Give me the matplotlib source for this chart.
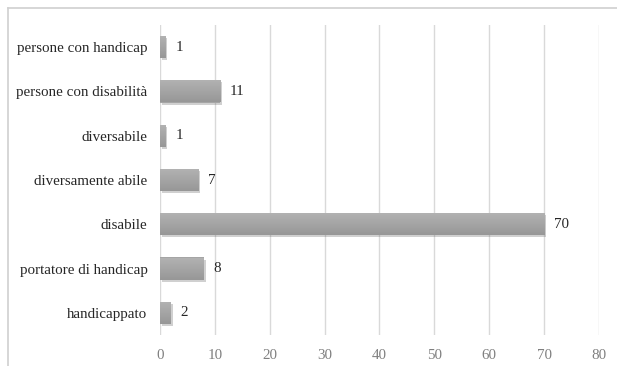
import numpy as np
import matplotlib
matplotlib.use("Agg")
import matplotlib.pyplot as plt
from matplotlib import patheffects as pe
from matplotlib.lines import Line2D
from matplotlib.colors import LinearSegmentedColormap

categories = ["handicappato", "portatore di handicap", "disabile",
              "diversamente abile", "diversabile", "persone con disabilità",
              "persone con handicap"]
values = [2, 8, 70, 7, 1, 11, 1]
xticks = [0, 10, 20, 30, 40, 50, 60, 70, 80]

plt.rcParams['font.family'] = ['Liberation Serif', 'DejaVu Serif']

fig = plt.figure(figsize=(6.17, 3.66), dpi=100)
fig.patch.set_facecolor('white')
ax = fig.add_axes([160/617, 31/366, 439/617, 310/366])

# outer frame (top & left visible)
fig.add_artist(Line2D([8/617, 1.0], [1-8/366, 1-8/366], transform=fig.transFigure,
                      color='#d0d0d0', lw=1.2))
fig.add_artist(Line2D([8/617, 8/617], [0, 1-8/366], transform=fig.transFigure,
                      color='#d0d0d0', lw=1.2))

y = np.arange(len(categories))
h = 0.5
bars = ax.barh(y, values, height=h, color='#a5a5a5', zorder=3,
               path_effects=[pe.SimplePatchShadow(offset=(1.2, -1.5), shadow_rgbFace='#666666', alpha=0.3),
                             pe.Normal()])

cmap = LinearSegmentedColormap.from_list('g', ['#979797', '#b3b3b3'])
grad = np.linspace(0, 1, 64).reshape(-1, 1)
for b, yi, v in zip(bars, y, values):
    im = ax.imshow(grad, extent=(0, v, yi - h/2, yi + h/2), aspect='auto',
                   cmap=cmap, origin='lower', zorder=4)
    im.set_clip_path(b)
    ax.annotate(str(v), xy=(v, yi), xytext=(7, 0), textcoords='offset points',
                va='center', ha='left', fontsize=10.8, color='#262626', zorder=5)

ax.set_xlim(0, 80)
ax.set_ylim(-0.5, len(categories) - 0.5)
ax.set_xticks(xticks)
ax.set_xticklabels([str(t) for t in xticks], fontsize=10.8, color='#7f7f7f')
ax.set_yticks(y)
ax.set_yticklabels(categories, fontsize=10.8, color='#262626')
ax.tick_params(axis='both', length=0)
ax.tick_params(axis='x', pad=10)
ax.tick_params(axis='y', pad=9)
ax.grid(axis='x', color='#d9d9d9', lw=1.0, zorder=0)
ax.set_axisbelow(True)
for s in ax.spines.values():
    s.set_visible(False)

fig.savefig('out.png', dpi=100)
